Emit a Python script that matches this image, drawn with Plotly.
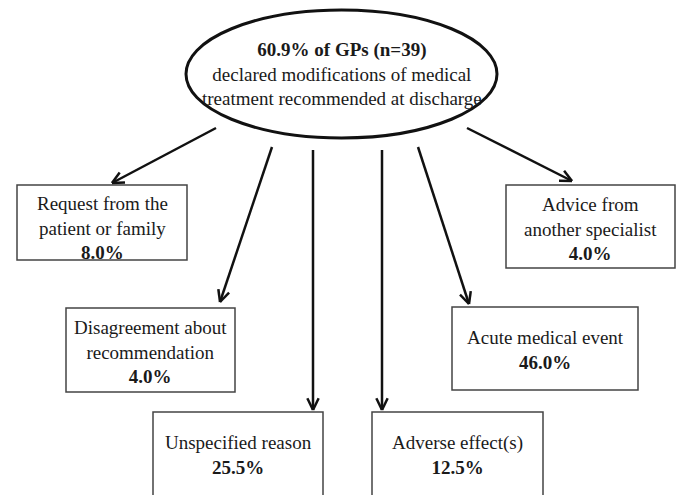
import math
import plotly.graph_objects as go

# ---- data ----
header_value = "60.9%"
header_n = 39
header_text = ["declared modifications of medical", "treatment recommended at discharge"]
reasons = [
    "Request from the<br>patient or family",
    "Disagreement about<br>recommendation",
    "Unspecified reason",
    "Adverse effect(s)",
    "Acute medical event",
    "Advice from<br>another specialist",
]
percents = [8.0, 4.0, 25.5, 12.5, 46.0, 4.0]

# ---- layout (positions in pixel-like axis units) ----
W, H = 680, 495
ellipse = dict(x0=186, y0=10, x1=497, y1=138)
boxes = [  # x0, y0, x1, y1
    (17, 185, 187, 260),
    (66, 308, 235, 392),
    (153, 412, 323, 520),
    (372, 412, 543, 520),
    (452, 307, 638, 390),
    (506, 185, 675, 268),
]
text_centers = [(102, 228), (150, 352), (238, 455), (457, 455), (545, 350), (590, 229)]
arrows = [  # start (x, y) -> tip (x, y)
    ((216, 128), (112, 183)),
    ((272, 147), (220, 302)),
    ((313, 150), (313, 410)),
    ((382, 150), (382, 410)),
    ((418, 147), (469, 304)),
    ((467, 128), (572, 181)),
]

FONT = "Liberation Serif, Times New Roman, serif"
TXT = "#1a1a1a"
FS = 19
fig = go.Figure()
shapes = []
annotations = []

shapes.append(dict(type="circle", xref="x", yref="y", line=dict(color="#111", width=3),
                   fillcolor="white", **ellipse))

for (x0, y0, x1, y1) in boxes:
    shapes.append(dict(type="rect", xref="x", yref="y", x0=x0, y0=y0, x1=x1, y1=y1,
                       line=dict(color="#444", width=1.5), fillcolor="white"))

for (s, t) in arrows:
    (sx, sy), (tx, ty) = s, t
    shapes.append(dict(type="line", xref="x", yref="y", x0=sx, y0=sy, x1=tx, y1=ty,
                       line=dict(color="#111", width=2.5)))
    ang = math.atan2(ty - sy, tx - sx)
    L = 13
    for d in (0.45, -0.45):
        a = ang + math.pi + d
        shapes.append(dict(type="line", xref="x", yref="y", x0=tx, y0=ty,
                           x1=tx + L * math.cos(a), y1=ty + L * math.sin(a),
                           line=dict(color="#111", width=2.5)))

annotations.append(dict(
    x=(ellipse["x0"] + ellipse["x1"]) / 2, y=74, xref="x", yref="y", showarrow=False,
    text=f"<b>{header_value} of GPs (n={header_n})</b><br>" + "<br>".join(header_text),
    font=dict(family=FONT, size=FS, color=TXT), align="center"))

for lab, p, (cx, cy) in zip(reasons, percents, text_centers):
    annotations.append(dict(
        x=cx, y=cy, xref="x", yref="y", showarrow=False,
        text=f"{lab}<br><b>{p:.1f}%</b>",
        font=dict(family=FONT, size=FS, color=TXT), align="center"))

fig.update_layout(
    width=W, height=H, margin=dict(l=0, r=0, t=0, b=0),
    paper_bgcolor="white", plot_bgcolor="white",
    xaxis=dict(range=[0, W], visible=False, fixedrange=True),
    yaxis=dict(range=[H, 0], visible=False, fixedrange=True),
    shapes=shapes, annotations=annotations, showlegend=False,
)
fig.write_html("out.html", config={"displayModeBar": False},
               post_script="document.body.style.margin='0';")
